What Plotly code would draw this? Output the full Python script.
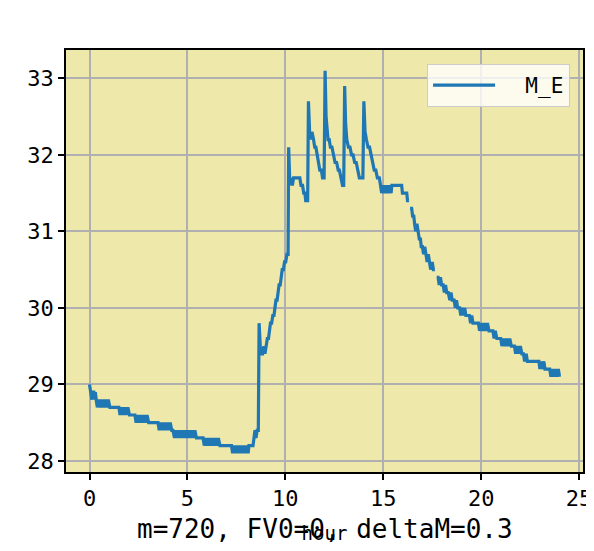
import plotly.graph_objects as go

# ---- data (hour, M_E) ----
night_hours = [0.00, 0.04, 0.08, 0.12, 0.16, 0.22, 0.26, 0.30, 0.34,
               0.40, 0.48, 0.56, 0.64, 0.72, 0.80, 0.88, 0.96, 1.04, 1.10,
               1.50, 1.56, 1.64, 1.72, 1.80, 1.88, 1.96, 2.04, 2.12,
               2.32, 2.38, 2.46, 2.54, 2.62, 2.70, 2.78, 2.86, 2.94, 3.02, 3.09,
               3.50, 3.56, 3.64, 3.72, 3.80, 3.88, 3.96, 4.04, 4.12, 4.20, 4.26,
               4.34, 4.42, 4.50, 4.58, 4.66, 4.74, 4.82, 4.90, 4.98, 5.06, 5.14, 5.22, 5.30, 5.38, 5.46, 5.55,
               5.80, 5.86, 5.94, 6.02, 6.10, 6.18, 6.26, 6.34, 6.42, 6.50, 6.58, 6.66,
               7.25, 7.31, 7.39, 7.47, 7.55, 7.63, 7.71, 7.79, 7.87, 7.95, 8.03, 8.10,
               8.14, 8.35, 8.40, 8.45, 8.50, 8.56, 8.62]
night_temp = [29.0, 28.9, 28.9, 28.8, 28.9, 28.9, 28.8, 28.9, 28.8,
              28.7, 28.8, 28.7, 28.8, 28.7, 28.8, 28.7, 28.8, 28.7, 28.7,
              28.7, 28.6, 28.7, 28.6, 28.7, 28.6, 28.7, 28.6, 28.6,
              28.6, 28.5, 28.6, 28.5, 28.6, 28.5, 28.6, 28.5, 28.6, 28.5, 28.5,
              28.5, 28.4, 28.5, 28.4, 28.5, 28.4, 28.5, 28.4, 28.5, 28.4, 28.4,
              28.3, 28.4, 28.3, 28.4, 28.3, 28.4, 28.3, 28.4, 28.3, 28.4, 28.3, 28.4, 28.3, 28.4, 28.3, 28.3,
              28.3, 28.2, 28.3, 28.2, 28.3, 28.2, 28.3, 28.2, 28.3, 28.2, 28.3, 28.2,
              28.2, 28.1, 28.2, 28.1, 28.2, 28.1, 28.2, 28.1, 28.2, 28.1, 28.2, 28.1,
              28.2, 28.2, 28.3, 28.4, 28.3, 28.4, 28.4]

rise_hours = [8.66, 8.72, 8.76, 8.84, 8.90, 8.96, 9.02, 9.08, 9.14, 9.18,
              9.24, 9.30, 9.36, 9.42, 9.46, 9.52, 9.58, 9.62, 9.68, 9.74,
              9.78, 9.84, 9.90, 9.96, 10.02, 10.08, 10.14]
rise_temp = [29.8, 29.5, 29.4, 29.4, 29.5, 29.4, 29.5, 29.6, 29.6, 29.7,
             29.8, 29.8, 29.9, 29.9, 30.0, 30.1, 30.1, 30.2, 30.3, 30.3,
             30.4, 30.5, 30.5, 30.6, 30.6, 30.7, 30.7]

peak_hours = [10.17, 10.22, 10.26, 10.30, 10.36, 10.42, 10.60, 10.74, 10.80, 10.88, 10.94, 11.00, 11.04, 11.14,
              11.18, 11.24, 11.30, 11.36, 11.44, 11.50, 11.56, 11.62, 11.68, 11.76, 11.84, 11.90, 11.98,
              12.03, 12.08, 12.12, 12.18, 12.24, 12.30, 12.38, 12.46, 12.54, 12.62, 12.70, 12.76, 12.84, 12.92, 12.98,
              13.03, 13.08, 13.14, 13.22, 13.30, 13.38, 13.46, 13.54, 13.62, 13.70, 13.78, 13.86, 13.96,
              14.01, 14.07, 14.14, 14.22, 14.30, 14.38, 14.46, 14.54, 14.62, 14.70, 14.80,
              14.86, 14.92, 15.00, 15.08, 15.16, 15.24, 15.32, 15.40, 15.44, 15.94, 15.98, 16.20, 16.24, 16.32, 16.34]
peak_temp = [32.1, 31.7, 31.6, 31.7, 31.6, 31.7, 31.7, 31.7, 31.6, 31.6, 31.5, 31.5, 31.4, 31.4,
             32.7, 32.3, 32.2, 32.3, 32.2, 32.1, 32.1, 32.0, 31.9, 31.8, 31.8, 31.7, 31.7,
             33.1, 32.5, 32.3, 32.2, 32.2, 32.1, 32.1, 32.0, 31.9, 31.9, 31.8, 31.8, 31.7, 31.6, 31.6,
             32.9, 32.4, 32.2, 32.1, 32.1, 32.0, 32.0, 31.9, 31.9, 31.8, 31.7, 31.7, 31.7,
             32.7, 32.3, 32.2, 32.1, 32.1, 32.0, 31.9, 31.8, 31.8, 31.7, 31.7,
             31.6, 31.5, 31.6, 31.5, 31.6, 31.5, 31.6, 31.5, 31.6, 31.6, 31.5, 31.5, 31.4, 31.4, None]

fall_hours = [16.37, 16.45, 16.50, 16.56, 16.60, 16.66, 16.72, 16.78, 16.84, 16.90,
              16.94, 17.00, 17.06, 17.12, 17.18, 17.24, 17.30, 17.36, 17.42, 17.50,
              17.56, 17.64, 17.68,
              17.73, 17.80, 17.86, 17.92, 17.98, 18.06, 18.12, 18.18, 18.24, 18.32,
              18.40, 18.46, 18.52, 18.62, 18.68, 18.74, 18.80, 18.90,
              18.96, 19.02, 19.10, 19.16, 19.22, 19.40, 19.46, 19.52, 19.58, 19.86,
              19.92, 20.00, 20.08, 20.16, 20.24, 20.32, 20.40, 20.60,
              20.66, 20.72, 20.80, 21.00, 21.06, 21.14, 21.22, 21.30, 21.38, 21.46,
              21.54, 21.70, 21.76, 21.84, 21.92, 22.00, 22.08, 22.16,
              22.22, 22.30, 22.36, 22.95, 23.00, 23.06, 23.12, 23.20, 23.26, 23.50,
              23.56, 23.62, 23.70, 23.78, 23.86, 23.94, 24.00]
fall_temp = [31.3, 31.3, 31.2, 31.2, 31.1, 31.0, 31.1, 31.0, 30.9, 30.9,
             30.8, 30.8, 30.7, 30.8, 30.7, 30.6, 30.7, 30.6, 30.5, 30.6,
             30.5, 30.5, None,
             30.4, 30.4, 30.3, 30.4, 30.3, 30.3, 30.2, 30.3, 30.2, 30.2,
             30.1, 30.2, 30.1, 30.1, 30.0, 30.1, 30.0, 30.0,
             29.9, 30.0, 29.9, 30.0, 29.9, 29.9, 29.8, 29.9, 29.8, 29.8,
             29.7, 29.8, 29.7, 29.8, 29.7, 29.8, 29.7, 29.7,
             29.6, 29.7, 29.6, 29.6, 29.5, 29.6, 29.5, 29.6, 29.5, 29.6,
             29.5, 29.5, 29.4, 29.5, 29.4, 29.5, 29.4, 29.4,
             29.3, 29.4, 29.3, 29.3, 29.2, 29.3, 29.2, 29.3, 29.2, 29.2,
             29.1, 29.2, 29.1, 29.2, 29.1, 29.2, 29.1]

x_ticks = [0, 5, 10, 15, 20, 25]
y_ticks = [28, 29, 30, 31, 32, 33]
series_name = "M_E"
x_title = "hour"
caption = "m=720, FV0=0, deltaM=0.3"

hours = night_hours + rise_hours + peak_hours + fall_hours
temps = night_temp + rise_temp + peak_temp + fall_temp

FONT = "DejaVu Sans Mono"

fig = go.Figure()
fig.add_trace(go.Scatter(
    x=hours, y=temps, mode="lines", name="\u00a0\u00a0" + series_name,
    line=dict(color="#1f77b4", width=3.2), connectgaps=False,
))

axis_common = dict(
    showline=True, linecolor="black", linewidth=1.6, mirror=True,
    showgrid=True, gridcolor="#b0b0b0", gridwidth=1.5,
    ticks="outside", ticklen=6, tickwidth=1.6, tickcolor="black",
    zeroline=False,
    tickfont=dict(family=FONT, size=22, color="black"),
)

# page body has an 8px margin, so the figure is drawn 8px in from the corner
fig.update_layout(
    width=586, height=543,
    margin=dict(l=58, r=11, t=42, b=79, autoexpand=False),
    paper_bgcolor="white",
    plot_bgcolor="#EEE8AA",
    font=dict(family=FONT, color="black"),
    xaxis=dict(range=[-1.2, 25.2], tickvals=x_ticks, **axis_common,
               title=dict(text=x_title, font=dict(family=FONT, size=19), standoff=16)),
    yaxis=dict(range=[27.855, 33.37], tickvals=y_ticks, **axis_common),
    legend=dict(x=0.975, y=0.967, xanchor="right", yanchor="top",
                bgcolor="rgba(255,255,255,0.8)", bordercolor="#cccccc", borderwidth=1,
                font=dict(family=FONT, size=21, color="black"),
                itemwidth=62),
    showlegend=True,
    annotations=[dict(
        text=caption, xref="paper", yref="paper", x=0.5, y=-0.135,
        xanchor="center", yanchor="middle", showarrow=False,
        font=dict(family=FONT, size=26, color="black"),
    )],
)

fig.write_html("out.html")
